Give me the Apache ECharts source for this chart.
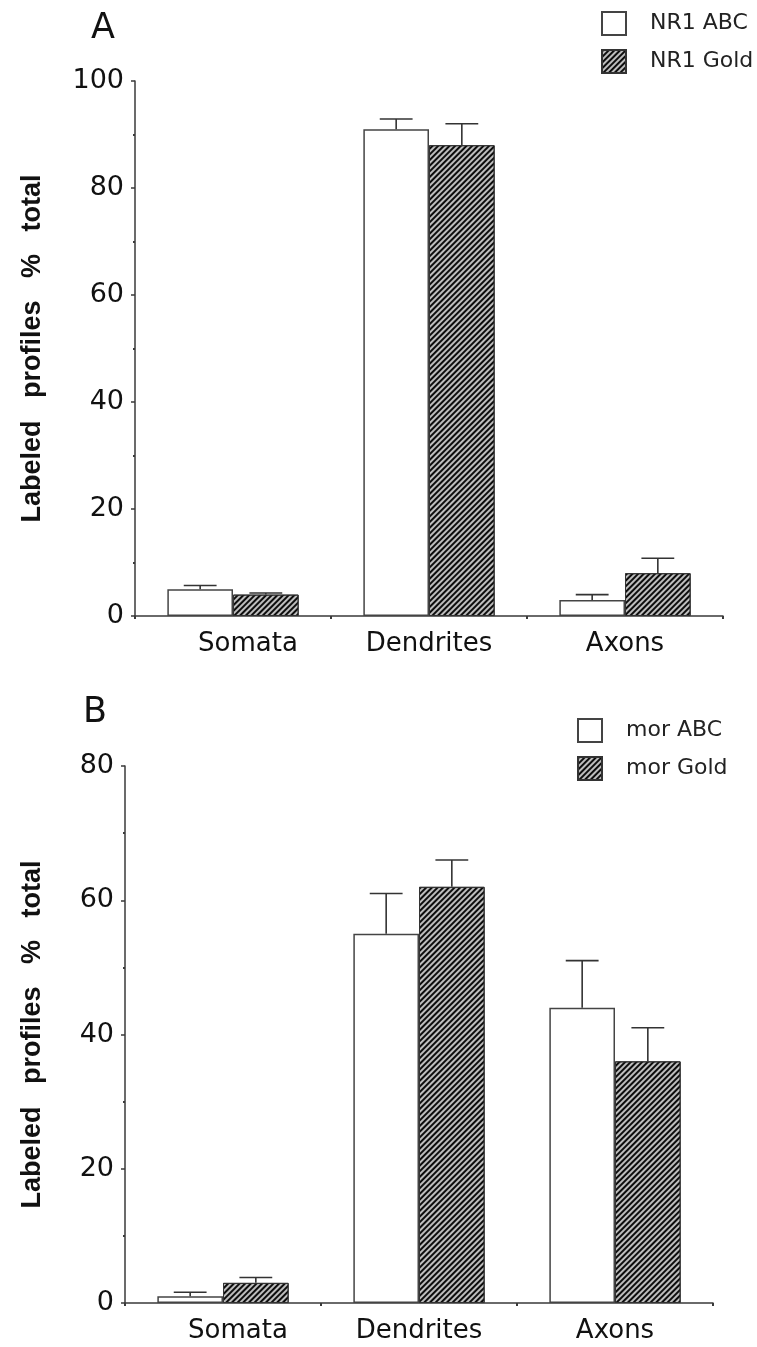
<!DOCTYPE html>
<html>
<head>
<meta charset="utf-8">
<script src="https://cdn.jsdelivr.net/npm/echarts@6/dist/echarts.min.js"></script>
<style>
html,body{margin:0;padding:0;background:#fff;}
#c{width:757px;height:1347px;}
</style>
</head>
<body>
<div id="c"></div>
<script>
// ---- data ----
const categories = ['Somata', 'Dendrites', 'Axons'];
const nr1Abc = [5, 91, 3];
const nr1AbcErr = [0.7, 1.9, 1.0];
const nr1Gold = [4, 88, 8];
const nr1GoldErr = [0.3, 4, 2.8];
const morAbc = [1, 55, 44];
const morAbcErr = [0.6, 6, 7];
const morGold = [3, 62, 36];
const morGoldErr = [0.8, 4, 5];
const yName = 'Labeled   profiles   %   total';

// ---- styles ----
const AX = '#3a3a3a';
const FONT = 'DejaVu Sans';
const hatch = {
  symbol: 'rect', symbolSize: 1,
  dashArrayX: [1, 0], dashArrayY: [2, 2],
  rotation: -Math.PI / 4, color: '#0d0d0d', backgroundColor: null
};
const abcStyle = { color: '#fff', borderColor: '#444', borderWidth: 1.5 };
const goldStyle = { color: '#bdbdbd', borderColor: '#333', borderWidth: 1, decal: hatch };

function errSeries(vals, errs, side, idx) {
  return {
    type: 'custom', xAxisIndex: idx, yAxisIndex: idx, z: 5, silent: true,
    encode: { x: 0, y: 1 },
    data: vals.map((v, i) => [i, v, errs[i]]),
    renderItem: function (params, api) {
      const i = api.value(0), v = api.value(1), e = api.value(2);
      const base = api.coord([i, v]);
      const top = api.coord([i, v + e]);
      const cw = api.size([1, 0])[0];
      const bw = cw * 0.67 / 2;
      const x = base[0] + side * bw / 2;
      const ch = bw * 0.25;
      const st = { stroke: '#333', lineWidth: 1.6 };
      return {
        type: 'group', children: [
          { type: 'line', shape: { x1: x, y1: base[1], x2: x, y2: top[1] }, style: st },
          { type: 'line', shape: { x1: x - ch, y1: top[1], x2: x + ch, y2: top[1] }, style: st }
        ]
      };
    }
  };
}

function xAxis(idx) {
  return {
    type: 'category', gridIndex: idx,
    data: categories.map((c, i) => i === 0 ? { value: c, textStyle: { padding: [0, 0, 0, 30] } } : c),
    axisLine: { lineStyle: { color: AX, width: 1.5 } },
    axisTick: { show: true, length: 3, lineStyle: { color: AX, width: 2 } },
    axisLabel: { fontFamily: FONT, fontSize: 26, color: '#111', margin: 15 },
    splitLine: { show: false }
  };
}
function yAxis(idx, max, gap) {
  return {
    type: 'value', gridIndex: idx, min: 0, max: max, interval: 20,
    axisLine: { show: true, lineStyle: { color: AX, width: 1.5 } },
    axisTick: { show: true, length: 4, lineStyle: { color: AX, width: 1.5 } },
    minorTick: { show: true, splitNumber: 2, length: 2, lineStyle: { color: AX, width: 2 } },
    axisLabel: { fontFamily: FONT, fontSize: 27, color: '#111', margin: 11 },
    splitLine: { show: false },
    name: yName, nameLocation: 'middle', nameGap: gap,
    nameTextStyle: { fontFamily: 'Liberation Sans', fontWeight: 'bold', fontSize: 27, color: '#111' }
  };
}
function legend(left, top, names) {
  return {
    left: left, top: top, orient: 'vertical', icon: 'rect', padding: 0,
    itemWidth: 24, itemHeight: 23, itemGap: 13,
    data: names,
    textStyle: { fontFamily: FONT, fontSize: 22, color: '#222', padding: [0, 0, 0, 19] }
  };
}

const chart = echarts.init(document.getElementById('c'), null, { renderer: 'canvas' });
chart.setOption({
  animation: false,
  backgroundColor: '#fff',
  title: [
    { text: 'A', left: 86, top: 6, textStyle: { fontFamily: FONT, fontWeight: 'normal', fontSize: 35, color: '#111' } },
    { text: 'B', left: 78, top: 690, textStyle: { fontFamily: FONT, fontWeight: 'normal', fontSize: 35, color: '#111' } }
  ],
  legend: [
    legend(601, 11, ['NR1 ABC', 'NR1 Gold']),
    legend(577, 718, ['mor ABC', 'mor Gold'])
  ],
  grid: [
    { left: 135, right: 34, top: 81, height: 535 },
    { left: 125, right: 44, top: 766, height: 537 }
  ],
  xAxis: [xAxis(0), xAxis(1)],
  yAxis: [yAxis(0, 100, 89), yAxis(1, 80, 79)],
  series: [
    { name: 'NR1 ABC', type: 'bar', xAxisIndex: 0, yAxisIndex: 0, data: nr1Abc, itemStyle: abcStyle, barGap: '0%', barCategoryGap: '33%' },
    { name: 'NR1 Gold', type: 'bar', xAxisIndex: 0, yAxisIndex: 0, data: nr1Gold, itemStyle: goldStyle, barGap: '0%', barCategoryGap: '33%' },
    { name: 'mor ABC', type: 'bar', xAxisIndex: 1, yAxisIndex: 1, data: morAbc, itemStyle: abcStyle, barGap: '0%', barCategoryGap: '33%' },
    { name: 'mor Gold', type: 'bar', xAxisIndex: 1, yAxisIndex: 1, data: morGold, itemStyle: goldStyle, barGap: '0%', barCategoryGap: '33%' },
    errSeries(nr1Abc, nr1AbcErr, -1, 0),
    errSeries(nr1Gold, nr1GoldErr, 1, 0),
    errSeries(morAbc, morAbcErr, -1, 1),
    errSeries(morGold, morGoldErr, 1, 1)
  ]
});
</script>
</body>
</html>
